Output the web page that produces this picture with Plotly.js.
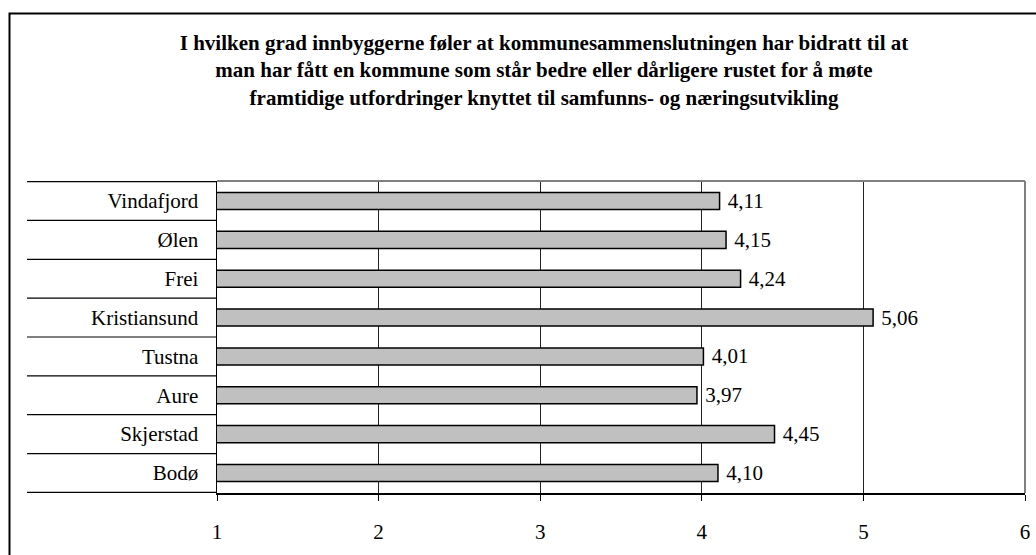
<!DOCTYPE html>
<html>
<head>
<meta charset="utf-8">
<script src="https://cdn.plot.ly/plotly-3.0.1.min.js"></script>
<style>html,body{margin:0;padding:0;background:#fff;}#chart{width:1036px;height:555px;}</style>
</head>
<body>
<div id="chart"></div>
<script>
const categories = ["Vindafjord", "Ølen", "Frei", "Kristiansund", "Tustna", "Aure", "Skjerstad", "Bodø"];
const values = [4.11, 4.15, 4.24, 5.06, 4.01, 3.97, 4.45, 4.10];
const xTicks = [1, 2, 3, 4, 5, 6];
const titleText = "I hvilken grad innbyggerne føler at kommunesammenslutningen har bidratt til at<br>man har fått en kommune som står bedre eller dårligere rustet for å møte<br>framtidige utfordringer knyttet til samfunns- og næringsutvikling";

const W = 1036, H = 555;
const L = 217, R = 11, T = 181, B = 62;
const pw = W - L - R, ph = H - T - B;
const px = v => (v - L) / pw;
const py = v => (H - B - v) / ph;

const font = "'Liberation Serif', 'Times New Roman', serif";

const shapes = [];
// outer frame
shapes.push({type: 'rect', xref: 'paper', yref: 'paper', x0: px(9.5), x1: px(1040), y0: py(560), y1: py(13.5),
  line: {color: '#000', width: 2}, fillcolor: 'rgba(0,0,0,0)', layer: 'below'});
// category separators
for (let i = 0; i <= categories.length; i++) {
  shapes.push({type: 'line', xref: 'paper', yref: 'y', x0: px(27), x1: 0, y0: i - 0.5, y1: i - 0.5,
    line: {color: '#000', width: 1.2}});
}
// plot area gray top / right border
shapes.push({type: 'line', xref: 'paper', yref: 'paper', x0: 0, x1: 1, y0: 1, y1: 1, line: {color: '#808080', width: 2}});
shapes.push({type: 'line', xref: 'paper', yref: 'paper', x0: 1, x1: 1, y0: 0, y1: 1, line: {color: '#808080', width: 2}});

const trace = {
  type: 'bar',
  orientation: 'h',
  y: categories,
  x: values,
  base: 0,
  marker: {color: '#c0c0c0', line: {color: '#000', width: 1.5}},
  text: values.map(v => '\u00a0' + v.toFixed(2).replace('.', ',')),
  textposition: 'outside',
  constraintext: 'none',
  cliponaxis: false,
  textfont: {family: font, size: 21, color: '#000'},
  hoverinfo: 'none'
};

const layout = {
  width: W, height: H,
  margin: {l: L, r: R, t: T, b: B, pad: 0},
  paper_bgcolor: '#fff', plot_bgcolor: '#fff',
  showlegend: false,
  bargap: 0.56,
  separators: ', ',
  font: {family: font, color: '#000'},
  title: {
    text: titleText,
    font: {family: font, size: 21, color: '#000', weight: 'bold'},
    xref: 'container', yref: 'container',
    x: 544 / W, xanchor: 'center',
    y: 1 - 50 / H, yanchor: 'top'
  },
  xaxis: {
    range: [1, 6],
    tickvals: xTicks,
    ticktext: xTicks.map(String),
    showgrid: true, gridcolor: '#222', gridwidth: 1,
    zeroline: false,
    showline: true, linecolor: '#000', linewidth: 1.5,
    ticks: 'outside', ticklen: 6, tickcolor: '#000', tickwidth: 1,
    ticklabelstandoff: 13,
    tickfont: {family: font, size: 21, color: '#000'},
    fixedrange: true
  },
  yaxis: {
    type: 'category',
    autorange: 'reversed',
    showgrid: false, zeroline: false,
    showline: true, linecolor: '#000', linewidth: 1.5,
    ticks: '',
    ticklabelstandoff: 13,
    tickfont: {family: font, size: 21, color: '#000'},
    fixedrange: true
  },
  shapes: shapes
};

Plotly.newPlot('chart', [trace], layout, {staticPlot: true, displayModeBar: false});
</script>
</body>
</html>
